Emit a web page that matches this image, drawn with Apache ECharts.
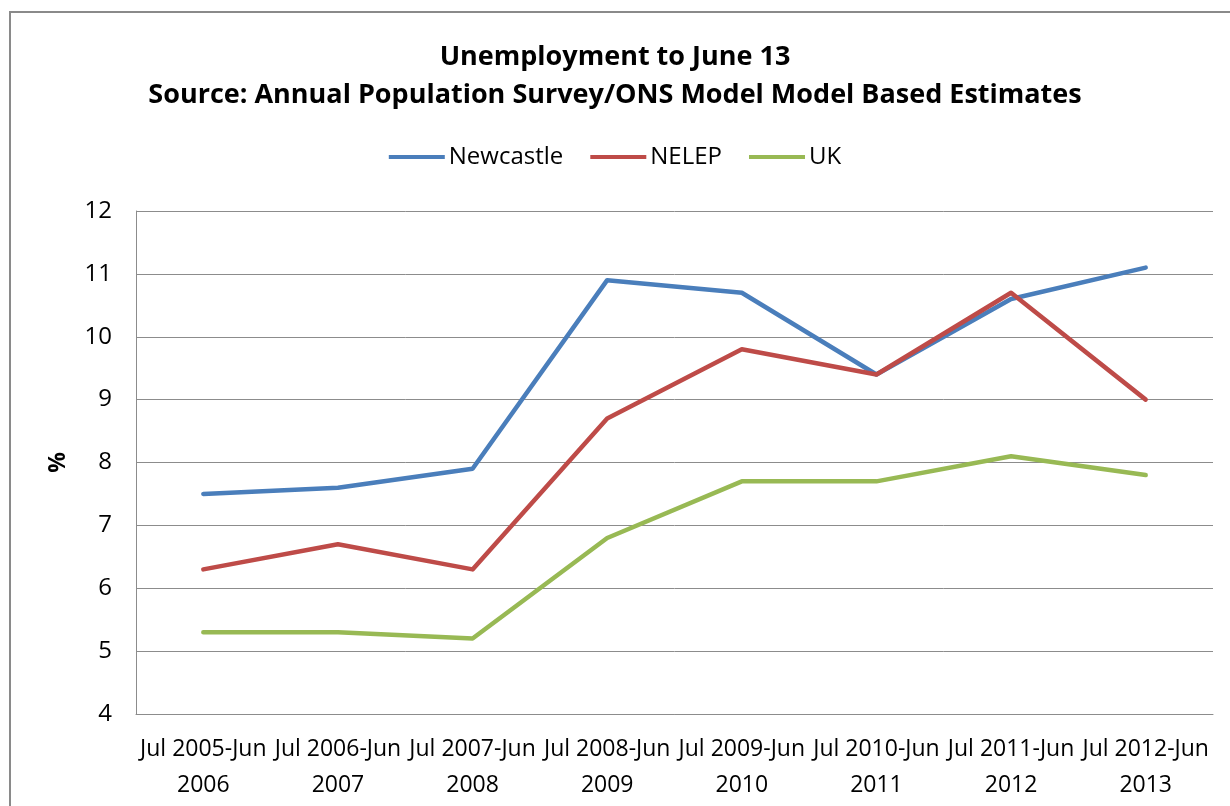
<!DOCTYPE html>
<html>
<head>
<meta charset="utf-8">
<script src="https://cdn.jsdelivr.net/npm/echarts@6/dist/echarts.min.js"></script>
<style>
  html, body { margin: 0; padding: 0; background: #fff; }
  #chart { width: 1230px; height: 806px; }
</style>
</head>
<body>
<div id="chart"></div>
<script>
// Reporting periods (July to June)
const categories = [
  'Jul 2005-Jun 2006', 'Jul 2006-Jun 2007', 'Jul 2007-Jun 2008', 'Jul 2008-Jun 2009',
  'Jul 2009-Jun 2010', 'Jul 2010-Jun 2011', 'Jul 2011-Jun 2012', 'Jul 2012-Jun 2013'
];
// Unemployment rate, %
const newcastle = [7.5, 7.6, 7.9, 10.9, 10.7, 9.4, 10.6, 11.1];
const nelep     = [6.3, 6.7, 6.3, 8.7, 9.8, 9.4, 10.7, 9.0];
const uk        = [5.3, 5.3, 5.2, 6.8, 7.7, 7.7, 8.1, 7.8];

const seriesNames = ['Newcastle', 'NELEP', 'UK'];
const titleLines = ['Unemployment to June 13', 'Source: Annual Population Survey/ONS Model Model Based Estimates'];

const FONT = 'Open Sans';
const chart = echarts.init(document.getElementById('chart'), null, { renderer: 'canvas' });

const lineSeries = (name, data, color) => ({
  name, type: 'line', data,
  symbol: 'none',
  lineStyle: { color, width: 4.5, cap: 'round', join: 'round' },
  itemStyle: { color },
  animation: false
});

chart.setOption({
  backgroundColor: '#fff',
  textStyle: { fontFamily: FONT },
  title: {
    text: titleLines.join('\n'),
    left: 'center', top: 33,
    textStyle: { fontFamily: FONT, fontSize: 27, fontWeight: 'bold', color: '#000', lineHeight: 38 }
  },
  legend: {
    top: 138, left: 'center',
    itemWidth: 56, itemHeight: 4, itemGap: 27,
    icon: 'rect',
    textStyle: { fontFamily: FONT, fontSize: 24, color: '#000', lineHeight: 28, padding: [0, 0, 0, -1] },
    data: seriesNames
  },
  graphic: [{
    type: 'polyline',
    shape: { points: [[10, 820], [10, 12], [1240, 12]] },
    style: { stroke: '#8a8a8a', lineWidth: 2, fill: null },
    silent: true
  }],
  grid: { left: 136, right: 17, top: 211, bottom: 92, containLabel: false },
  xAxis: {
    type: 'category',
    data: categories,
    boundaryGap: true,
    axisLine: { show: true, lineStyle: { color: '#8c8c8c', width: 1 } },
    axisTick: { show: false },
    axisLabel: {
      interval: 0, hideOverlap: false,
      fontFamily: FONT, fontSize: 23, color: '#000', lineHeight: 36, margin: 17,
      formatter: v => { const i = v.lastIndexOf(' '); return v.slice(0, i) + '\n' + v.slice(i + 1); }
    }
  },
  yAxis: {
    type: 'value',
    min: 4, max: 12, interval: 1,
    name: '%',
    nameLocation: 'middle', nameRotate: 90, nameGap: 66,
    nameTextStyle: { fontFamily: FONT, fontSize: 23, fontWeight: 'bold', color: '#000' },
    axisLine: { show: true, lineStyle: { color: '#8c8c8c', width: 1 } },
    axisTick: { show: false },
    axisLabel: { fontFamily: FONT, fontSize: 24, color: '#000', margin: 24 },
    splitLine: { show: true, lineStyle: { color: '#8c8c8c', width: 1 } }
  },
  series: [
    lineSeries(seriesNames[0], newcastle, '#4a7ebb'),
    lineSeries(seriesNames[1], nelep, '#be4b48'),
    lineSeries(seriesNames[2], uk, '#98b954')
  ]
});
</script>
</body>
</html>
